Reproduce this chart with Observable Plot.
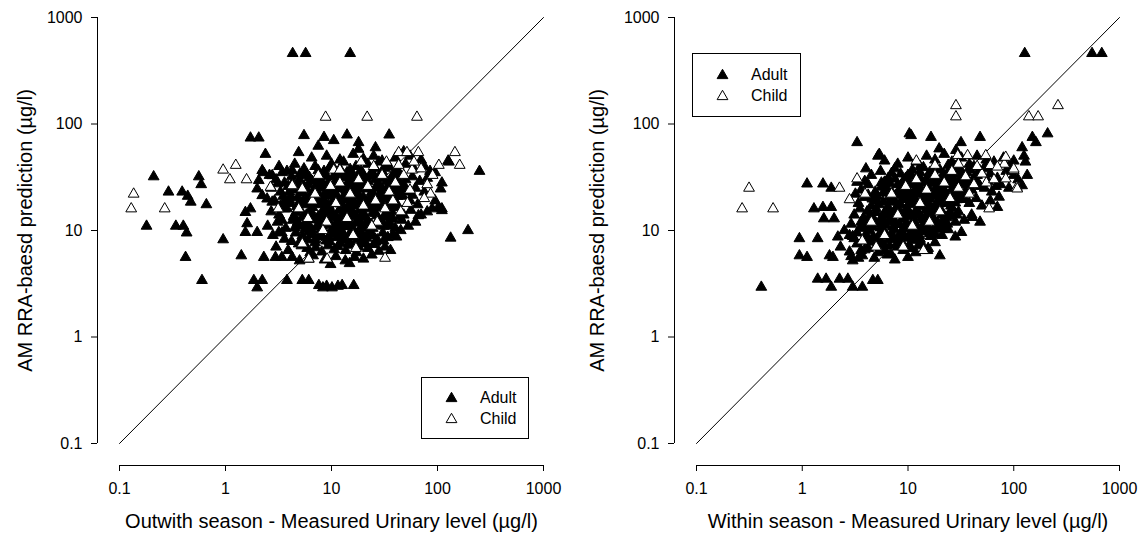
<!DOCTYPE html>
<html>
<head>
<meta charset="utf-8">
<script src="https://cdn.jsdelivr.net/npm/d3@7"></script>
<script src="https://cdn.jsdelivr.net/npm/@observablehq/plot@0.6"></script>
<style>
  html, body { margin: 0; padding: 0; background: #fff; }
  #wrap { position: relative; width: 1141px; height: 540px; display: flex; }
  .legend { position: absolute; }
</style>
</head>
<body>
<div id="wrap"></div>
<script>
// Axis ticks (log scales, both panels)
const xTicks = [0.1, 1, 10, 100, 1000];
const yTicks = [0.1, 1, 10, 100, 1000];
// 1:1 reference line
const identityLine = [0.1, 1000];

const xTitleOutwith = "Outwith season - Measured Urinary level (\u00b5g/l)";
const xTitleWithin = "Within season - Measured Urinary level (\u00b5g/l)";
const yTitle = "AM RRA-baesd prediction (\u00b5g/l)";
const groups = ["Adult", "Child"];

// Outwith season: [measured, predicted]
const outwithAdult = [
  [4.3,460],[5.7,460],[15,460],
  [0.21,32],[0.18,11],[0.29,23],[0.39,23],[0.44,21],[0.47,18.5],[0.34,11],[0.40,11],[0.43,9.5],[0.42,5.6],
  [0.56,32],[0.59,27],[0.66,17.5],[0.95,8.2],[1.41,5.8],[1.72,74],[2.06,74],[2.38,52],[2.28,35],
  [0.6,3.4],[1.85,3.4],[2.22,3.4],[1.99,2.9],[3.8,3.4],[5.3,3.4],[6.1,3.4],[7.6,3.05],[10.1,2.9],[9,3.0],
  [11.5,3.0],[12.6,3.05],[16.2,3.05],[8.3,2.9],
  [5.5,78],[8.5,75],[14,79],[35,79],[18,67],[4.9,54],[10.5,70],
  [249,36],[194,10],[133,8.5],[110,28],[107,24.6],[95,19],[102,16.5],[89,16],[110,16],[66,13.8],[126,45],
  [128,44],[86,33],[95,35],[110,15.4],[41,8.7],[45,10],[36,6.5],[31,8],[22,9],
  [2.3,5.6],[2.96,5.6],[4.26,5.6],[6.1,5.4],
  [1.54,14.8],[1.72,16],[1.6,11.6],[1.54,9.6],[1.99,9.6],[3.18,9.6],[2.06,29.5],[1.99,24.6],[2.22,36.6],
  [2.76,32.8],[3.43,35],[4.26,36.6],[2.22,21.3],[2.47,19.8],[2.76,18.5],[3.6,16],
  [6.5,48],[9,50],[12,46],[16,52],[20,47],[25,50],[30,45],[40,48],[55,50],[70,46],[48,55],[18,58],[7.5,62],[26,60],
  [3.2,40],[4.5,42],[5.5,38],[7,40],[8.5,36],[10,42],[12,38],[14,35],[17,40],[19,36],[22,42],[26,38],[30,36],
  [35,40],[42,37],[50,42],[60,38],[75,40],[85,36],[3.8,36],[13,44],[28,44],
  [3,30],[3.6,28],[4.2,32],[5,30],[5.8,33],[6.6,29],[7.4,31],[8.3,34],[9.3,28],[10.4,32],[11.6,30],[13,33],
  [14.5,29],[16,31],[18,34],[20,29],[23,32],[26,30],[29,33],[33,29],[37,31],[43,34],[50,30],[58,32],[68,29],
  [80,31],[2.6,33],
  [2.7,25],[3.3,23],[3.9,26],[4.6,24],[5.3,22.5],[6,27],[6.9,24],[7.8,26],[8.8,23],[9.8,25.5],[11,22],[12.3,27],
  [13.7,24],[15.3,26],[17,23],[19,25],[21.5,27],[24,23],[27,25],[30,22.5],[34,26],[39,24],[45,27],[52,23],
  [62,25],[75,23],[3.1,27.5],[16,28],[38,28],
  [2.9,19],[3.5,21],[4.1,18],[4.8,20.5],[5.6,17.5],[6.3,21],[7.2,19],[8.1,17.5],[9.2,21],[10.3,18.5],[11.5,20],
  [12.8,17],[14.3,21.5],[16,19],[18,17.5],[20,20.5],[22.5,18],[25.5,21],[28.5,19],[32,17.5],[36,20.5],[41,18],
  [47,21],[55,19],[65,17.5],[3.3,17],[58,21.5],
  [2.7,15],[3.2,14],[3.8,16],[4.4,13.5],[5.1,15.5],[5.8,14],[6.6,16.5],[7.5,13.5],[8.4,15],[9.4,16.5],[10.5,14],
  [11.8,15.5],[13.2,13],[14.8,16],[16.5,14],[18.5,15.5],[20.5,13.5],[23,16],[26,14.5],[29,16.5],[32.5,13.5],
  [37,15],[42,16.5],[48,14],[56,15.5],[70,14],[80,15],
  [2.5,11],[3.1,12],[3.7,10.5],[4.3,12.5],[5,11],[5.7,12],[6.5,10.2],[7.3,12.8],[8.2,11],[9.1,12.2],[10.2,10.5],
  [11.4,12.5],[12.7,11],[14.1,12],[15.7,10.3],[17.5,12.6],[19.5,11],[21.8,12],[24.5,10.5],[27.5,12.5],[31,11],
  [35,12],[40,10.5],[46,12.5],[53,11],[62,12],
  [2.8,9],[3.6,8.3],[4.6,9.5],[5.4,8.5],[6.2,9.8],[7,8.2],[7.9,9.2],[8.9,8],[10,9.6],[11.2,8.6],[12.5,9.8],
  [13.9,8.3],[15.5,9.3],[17.3,8.1],[19.3,9.6],[21.5,8.5],[24,9.4],[27,8.2],[30.5,9.5],[34,8.6],[38,9.2],
  [3,7],[3.9,6.5],[4.9,7.5],[5.9,6.8],[7,7.7],[8.1,6.3],[9.3,7.2],[10.6,6.6],[12,7.6],[13.6,6.5],[15.3,7.3],
  [17.2,6.2],[19.5,7.5],[22,6.8],[25,7.4],[28,6.4],[32,7],
  [3.4,5.6],[5,5.2],[6.7,5.8],[8.6,5.3],[11,5.7],[13.5,5.2],[16.5,5.6],[20,5.4],[24,5.9],[9.8,4.8],[14.8,4.9],
  [4,19.5],[4.7,16.8],[5.4,19],[6.2,15],[7,17.8],[7.8,20.5],[8.7,18.2],[9.7,15.2],[10.8,20],[12,17.8],
  [13.3,19.6],[14.8,18],[16.6,20.8],[18.6,18.8],[20.8,16.4],[23.5,19.6],[26.5,17.6],[30,20],[34,18.6],
  [4.5,10.6],[5.3,13.2],[6,11.3],[6.8,13.7],[7.7,11.6],[8.7,13.8],[9.8,11.4],[11,13.6],[12.2,10.2],[13.6,14.2],
  [15.2,11.6],[17,13.6],[19,10.8],[21.2,13.2],[23.8,11.4],[26.8,13.8],[30,12.2],[34,14],[38,12.8],[44,13.6],
  [4,23],[4.9,26.5],[5.8,24.5],[6.6,22.3],[7.5,28],[8.4,25],[9.5,22.6],[10.6,27.5],[11.9,24.6],[13.3,21.8],
  [14.9,25.6],[16.8,23.6],[18.9,27.8],[21.2,24.6],[23.8,21.6],[26.8,26.6],[30,24.4],[33.8,21.8],[38,26],[43,23],
  [49,26],[5.3,8.9],[6.6,9.2],[8,10.3],[9.5,8.7],[11,10.8],[13,9.2],[15,10.9],[17.5,9.3],[20.5,10.7],[23,9.1],
  [26,11.2],[5.5,35],[7.5,36.5],[9.5,38],[11.5,34.5],[15,37.5],[20,33.5],[24,35.5],[32,38.5],[38,33.5],
  [6.3,6.2],[7.5,8.9],[11.5,7.1],[14.5,8.7],[18,7],[21,7.6],[4.2,7.9],[4.6,14.7],[5.5,26],[3.6,19],[3.4,12.5],[3.4,9.5],
  [4.3,28],[5,33.5],[6.2,31.5],[7.1,26],[8,29.5],[9,32],[10,24],[11.3,28.7],[12.6,31.5],[14,26.7],[15.6,33.5],
  [17.5,27],[19.6,31],[22,29],[25,33],[28,27.5],[31.5,31],[36,26],[41,30],[46,24.5],
  [4.1,21],[5,18],[5.9,20],[6.7,18.3],[7.5,22],[8.4,19.5],[9.4,17.2],[10.5,22.5],[11.7,19],[13,16],[14.5,20],
  [16.2,17],[18,22],[20.2,19.3],[22.8,16.8],[25.5,19.8],[28.8,22.3],[32.5,20],[37,17],[42,21],
  [4.8,12],[5.6,10.2],[6.4,12.6],[7.2,10.8],[8,14.5],[8.9,12.5],[10,13.3],[11.2,11.6],[12.5,13.8],[14,11],
  [15.6,14.5],[17.4,11.8],[19.5,14.3],[22,12.4],[24.6,14.8],[27.7,11.4],[31,13.4],[35,11],
  [5.2,7.2],[6,8.2],[7.1,6.9],[8.2,8.7],[9.6,7.9],[11,9.3],[12.8,8.1],[14.6,7.6],[16.3,9.9],[19,8.8],[22.6,9.9],[26,7.8]
];
const outwithChild = [
  [0.136,22],[0.129,16],[0.267,16],[0.95,37],[1.25,41],[1.10,30],[1.58,30],[2.66,25.5],[4.35,26],[3.14,16],
  [8.8,116],[21.7,116],[64,116],
  [146,54],[162,41],[86,22],[103,41],[43,54],[51.5,54],[66,54],[32,5.5],[43,41],[57.6,37],
  [4.26,26.4],[5.3,24.6],[4.9,16],[6.6,19],[5.3,7.5],[6.1,5.4],[9.1,5.4],[10.5,37],[9.8,26],
  [7.5,33],[12,28],[15,22],[18,30],[22,26],[26,19],[30,33],[35,23],[40,28],[48,33],[55,24],[60,44],[70,38],
  [80,27],[14,13],[20,17],[27,12],[11,18],[9,12],[16,9],[24,11],[38,19],[45,15],[33,44],[25,40],[7,22],
  [12,37],[19,44],[8.3,10],[6,13],[17,6.8],[32,16],[52,18],[75,20],[90,33]
];

// Within season: [measured, predicted]
const withinAdult = [
  [127,460],[550,460],[680,460],
  [3.3,67],[5.2,50],[10.3,81],[10.7,78],[16.5,75],[48,75],[5.35,52],[150,75],[162,67],[209,81],[120,60],
  [125,50],[134,33],[129,44],[120,26.4],[72.6,20.6],[70,16.5],[40.6,13.3],[15.3,6.5],[20,5.8],[31.7,67],
  [19.7,58.5],[28.4,56.5],
  [1.11,27.4],[1.57,27.4],[1.88,25],[1.29,16],[1.57,16.5],[1.88,16.5],[1.6,12.9],[2.0,12.9],[0.94,8.4],
  [1.4,8.4],[2.17,8.7],[0.94,5.8],[1.11,5.6],[1.81,5.8],[1.95,5.6],[2.8,9],[3.1,8.4],[3.3,28.4],[3.18,22],
  [2.9,5.7],[3.0,5.2],[3.4,5.5],[3.7,5.8],
  [0.41,2.94],[1.4,3.5],[1.68,3.5],[1.88,2.94],[2.25,3.5],[2.7,3.5],[3.0,2.94],[3.7,2.94],[4.65,3.4],[5.18,3.4],
  [6,45],[8,42],[10,48],[12,44],[15,50],[18,46],[22,52],[26,44],[32,48],[38,42],[45,50],[55,46],[65,44],
  [80,48],[100,45],[90,40],[13,40],[24,41],
  [4.5,33],[5.5,36],[6.5,31],[7.5,38],[8.5,34],[9.5,31],[11,37],[12.5,33],[14,39],[16,35],[18,31],[20,37],
  [23,33],[26,38],[30,34],[34,31],[39,37],[45,33],[52,38],[60,34],[70,31],[85,36],[4,38],[100,33],[110,30],
  [3.6,24],[4.2,27],[4.9,23],[5.6,28],[6.3,25],[7.1,22.5],[8,27],[9,24],[10,29],[11.3,23],[12.7,26],
  [14.2,22.5],[16,28],[18,24.5],[20,27],[22.5,23],[25,29],[28,25],[31,22.5],[35,27],[40,24],[46,28],[53,25],
  [62,23],[75,27],[90,25],[3.9,29],[33,29.5],
  [3.4,18],[3.9,20.5],[4.5,17],[5.1,21],[5.8,18.5],[6.5,16.5],[7.3,20],[8.2,17.5],[9.2,21.5],[10.3,18],
  [11.5,20.5],[12.8,16.8],[14.3,19.5],[16,17.5],[18,21],[20,18],[22.5,20.5],[25.5,17],[29,19.5],[33,21],
  [38,18],[44,20],[50,17],[60,19],[4.2,21.5],[27,21.5],
  [3.1,14],[3.6,12],[4.1,15],[4.7,13],[5.3,11.5],[6,14.5],[6.7,12.5],[7.5,15.5],[8.3,11.5],[9.2,13.5],
  [10.2,15],[11.3,12],[12.5,14],[13.8,11.3],[15.2,13],[17,15],[19,12],[21,14],[23.5,11.5],[26,13.5],[30,15],
  [34,12.5],[40,14],[48,12],[2.9,11.5],[15,16],
  [2.5,10],[3,8.8],[3.5,10.5],[4,9.2],[4.6,10.8],[5.2,8.6],[5.9,9.8],[6.6,8.3],[7.4,10.2],[8.3,9],[9.3,10.6],
  [10.4,8.5],[11.6,9.7],[13,8.3],[14.5,10],[16.3,8.8],[18.5,10.4],[21,9],[24,10.2],[28,8.7],[32,9.6],
  [2.3,7],[2.8,6.3],[3.3,7.5],[3.9,6.6],[4.5,7.8],[5.2,6.2],[6,7.2],[6.9,6],[7.9,7.6],[9,6.5],[10.3,7.3],
  [11.8,6.2],[13.5,7.5],[15.5,6.8],[18,7.7],[4.8,5.5],[7.5,5.3],[10,5.6],
  [4.4,14],[5,16],[5.6,13.2],[6.2,15.6],[7,13.5],[7.8,16.4],[8.7,14.2],[9.7,16.2],[10.8,13.7],[12,15.6],
  [13.3,13.2],[14.8,15.5],[16.5,14],[18.5,16.4],[20.5,15.6],[23,13.2],[26,16],[29,14],[4.3,10],[4.9,11.7],
  [5.5,9.5],[6.2,11.2],[7,9.4],[7.8,11.4],[8.7,9.8],[9.7,11.6],[10.8,9.6],[12,11],[13.4,9.8],[15,11.3],
  [17,9.8],[19,11.2],[21.5,10.3],[5,19],[5.8,22.5],[6.6,20.5],[7.4,18.5],[8.3,22.8],[9.3,19.6],[10.3,22.8],
  [11.5,18.6],[12.8,22],[14.3,21.2],[16,19.8],[18,23],[20,20],[22.5,18.8],[25,22.5],[28,18.2],[31,20.4],
  [35,23.5],[5.6,25.6],[6.8,27.5],[8.5,25.3],[10.5,26.8],[13.5,27.8],[15.5,25.6],[17.5,29.5],[21,25.5],
  [23.5,27],[26.5,31.5],[30,28],[37,30],[42,31],[48,26],[57,29],[68,26],[7,34.5],[9,29],[11,32],[13,35],
  [15,31],[17,36.5],[21,31.5],[24,35.5],[28,40],[32,36],[36,35],[42,40],[48,36.5],[55,40],[3.5,16],[3.8,13],
  [3.3,9.5],[4,8],[5.6,7.9],[6.7,7.2],[8.6,8],[11,8.1],[12.5,7.2],[3.6,6.5],[6.4,5.9],
  [4.6,19.8],[5.3,17.5],[6,22.8],[6.9,19.3],[7.7,21.5],[8.5,17.7],[9.5,23.5],[10.6,20.6],[11.8,17.5],[13,24],
  [14.6,18],[16.5,22],[18.6,18.2],[21,22.8],[23.6,17.9],[26.5,19.3],[30,23.5],[34,19.6],
  [4.4,12.5],[5,14.8],[5.8,11.8],[6.5,13.8],[7.3,12.2],[8.1,15],[9,12.8],[10,14.5],[11.2,12.3],[12.4,14.9],
  [13.8,12.6],[15.5,14.6],[17.5,12.8],[19.6,15.3],[22,12.5],[25,14.6],[28,12],
  [3.9,10.8],[4.7,8.8],[5.5,10.6],[6.3,9],[7.2,10.8],[8.1,8.6],[9.1,10.4],[10.2,8.9],[11.5,10.4],[12.8,9],
  [14.3,11],[16,9.4],[18.2,9.2],[20.5,11.5],
  [6,28.5],[7.5,30.5],[8.8,27.3],[10,33],[11.5,27.5],[12.9,30],[14.5,28.5],[16.6,32.5],[19,28],[21.7,34],
  [24.5,30.5],[27.5,26.5],[32,32],[38,27.5],[44,33],
  [4.2,6.8],[5.1,7.4],[6,6.4],[7,8.3],[8,7],[9.2,8.8],[10.6,6.8],[12,8.6]
];
const withinChild = [
  [0.314,25],[0.27,16],[0.53,16],[2.25,25],[3.3,30.6],[2.8,19.5],[3.93,22],
  [28.4,149],[28.4,117],[262,149],[139,117],[170,117],[107,25.5],[58.5,16],[81.5,42],[100,36.6],[108,24.6],
  [29.5,50.6],[36.6,50.6],[54.4,50.6],[84,48.8],[60,40.8],[70,39.5],[84,30.6],[100,37.8],
  [7,22],[9.5,26],[12,30],[15,24],[18,33],[22,28],[26,36],[30,25],[35,32],[42,27],[50,34],[13,18],[20,15],
  [8,14],[11,11],[16,12],[6,9],[9,7],[4.5,12],[25,20],[38,22],[45,40],[55,28],[65,30],[5,7],[14,6.5],
  [3.7,8],[18,41],[30,42],[12,45]
];

const FONT = "'Liberation Sans', Arial, Helvetica, sans-serif";
const R = 4;

function panel({adult, child, xTitle, width, marginLeft, marginRight, yTitleDx}) {
  const fmt = d => String(d);
  return Plot.plot({
    width, height: 540,
    marginTop: 17, marginBottom: 97, marginLeft, marginRight,
    x: {type: "log", domain: [d3.min(xTicks), d3.max(xTicks)]},
    y: {type: "log", domain: [d3.min(yTicks), d3.max(yTicks)]},
    style: {fontFamily: FONT, fontSize: "16px", color: "black", background: "white", overflow: "visible"},
    marks: [
      // offset axis lines
      Plot.ruleX([d3.min(xTicks)], {y1: d3.min(yTicks), y2: d3.max(yTicks), dx: -22, stroke: "black"}),
      Plot.ruleY([d3.min(yTicks)], {x1: d3.min(xTicks), x2: d3.max(xTicks), dy: 22, stroke: "black"}),
      Plot.axisY(yTicks, {tickFormat: fmt, tickSize: 6, tickPadding: 9, dx: -22, label: null}),
      Plot.axisX(xTicks, {tickFormat: fmt, tickSize: 6, tickPadding: 11, dy: 22, label: null}),
      // 1:1 line
      Plot.line(identityLine, {x: d => d, y: d => d, stroke: "black", strokeWidth: 1}),
      Plot.dot(adult, {x: d => d[0], y: d => d[1], symbol: "triangle", r: R, fill: "black", stroke: "black", strokeWidth: 1}),
      Plot.dot(child, {x: d => d[0], y: d => d[1], symbol: "triangle", r: R, fill: "white", stroke: "black", strokeWidth: 1}),
      Plot.text([xTitle], {frameAnchor: "bottom", dy: 84, fontSize: 20}),
      Plot.text([yTitle], {frameAnchor: "left", textAnchor: "middle", rotate: -90, dx: yTitleDx, fontSize: 20})
    ]
  });
}

function legend(left, top, w, h) {
  const tri = d3.symbol(d3.symbolTriangle, Math.PI * R * R)();
  const svg = d3.create("svg")
    .attr("class", "legend")
    .attr("width", w).attr("height", h)
    .style("left", left + "px").style("top", top + "px");
  svg.append("rect").attr("x", 0.5).attr("y", 0.5).attr("width", w - 1).attr("height", h - 1)
    .attr("fill", "white").attr("stroke", "black");
  groups.forEach((g, i) => {
    const cy = h / 2 - 10.5 + i * 21;
    svg.append("path").attr("d", tri).attr("transform", `translate(30.5,${cy + 1})`)
      .attr("fill", i === 0 ? "black" : "white").attr("stroke", "black");
    svg.append("text").attr("x", 59).attr("y", cy).attr("dy", "0.35em")
      .style("font-family", FONT).style("font-size", "16px").text(g);
  });
  return svg.node();
}

const wrap = document.getElementById("wrap");
wrap.append(panel({adult: outwithAdult, child: outwithChild, xTitle: xTitleOutwith,
  width: 570, marginLeft: 119, marginRight: 27, yTitleDx: -94}));
wrap.append(panel({adult: withinAdult, child: withinChild, xTitle: xTitleWithin,
  width: 571, marginLeft: 126, marginRight: 22, yTitleDx: -99}));
wrap.append(legend(421, 377, 108, 62));
wrap.append(legend(692, 53, 109, 64));
</script>
</body>
</html>
